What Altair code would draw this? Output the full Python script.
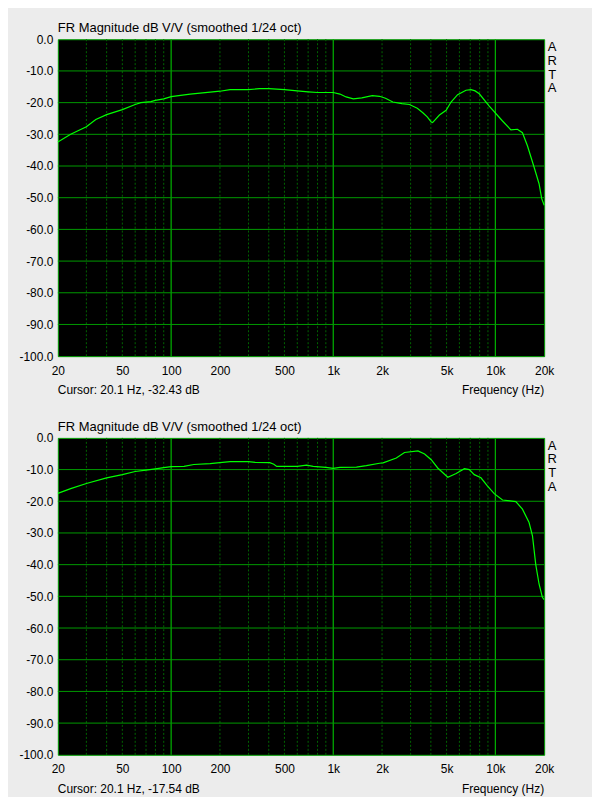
import altair as alt
import pandas as pd

# ---- data ----
freq1 = [20, 24, 30, 34.3, 40, 50, 60, 65, 75, 80, 90, 100, 131, 174, 200, 231, 300, 350, 400,
         500, 600, 700, 800, 1000, 1100, 1200, 1330, 1500, 1740, 1930, 2100, 2330, 2650, 2950,
         3300, 3570, 3800, 4020, 4100, 4520, 4970, 5330, 5850, 6590, 7080, 7500, 7960, 9170,
         11070, 12470, 13680, 14690, 15770, 17340, 18600, 19320, 20000]
db1 = [-32.4, -30.0, -27.6, -25.3, -23.8, -22.2, -20.6, -20.0, -19.7, -19.3, -18.8, -18.1, -17.3,
       -16.7, -16.4, -15.9, -15.9, -15.6, -15.6, -15.9, -16.3, -16.6, -16.8, -16.8, -17.3, -18.2,
       -18.8, -18.5, -17.8, -18.0, -18.6, -19.8, -20.3, -20.6, -21.8, -23.2, -24.5, -26.1, -26.3,
       -23.9, -22.4, -19.8, -17.5, -16.1, -15.9, -16.3, -17.2, -21.1, -25.8, -28.6, -28.4, -29.5,
       -33.6, -40.4, -45.6, -50.3, -52.4]

freq2 = [20, 24, 30, 40, 50, 60, 70, 80, 90, 100, 120, 138, 174, 200, 231, 300, 330, 406, 430,
         448, 600, 685, 752, 900, 1000, 1100, 1390, 1600, 1930, 2030, 2450, 2750, 3330, 3660,
         4020, 4410, 5090, 5730, 6440, 6910, 7410, 8150, 8950, 9840, 11070, 13370, 14690, 16140,
         16940, 17750, 18600, 19500, 20000]
db2 = [-17.5, -16.0, -14.4, -12.6, -11.6, -10.6, -10.2, -9.8, -9.4, -9.1, -9.0, -8.4, -8.1, -7.8,
       -7.5, -7.5, -7.7, -7.8, -8.3, -9.0, -9.0, -8.6, -9.0, -9.3, -9.6, -9.3, -9.2, -8.75, -8.0,
       -7.9, -6.35, -4.6, -4.1, -5.1, -6.9, -9.5, -12.4, -11.25, -9.7, -10.0, -11.6, -12.6, -15.2,
       -17.6, -19.6, -20.1, -22.5, -26.7, -30.9, -40.0, -46.1, -50.3, -51.0]

minor_freqs = [30, 40, 50, 60, 70, 80, 90, 200, 300, 400, 500, 600, 700, 800, 900,
               2000, 3000, 4000, 5000, 6000, 7000, 8000, 9000]
major_freqs = [100, 1000, 10000]
h_grid = [-10, -20, -30, -40, -50, -60, -70, -80, -90]
x_ticks = [20, 50, 100, 200, 500, 1000, 2000, 5000, 10000, 20000]
y_ticks = [0, -10, -20, -30, -40, -50, -60, -70, -80, -90, -100]

title_text = "FR Magnitude dB V/V (smoothed 1/24 oct)"
cursor_texts = ["Cursor: 20.1 Hz, -32.43 dB", "Cursor: 20.1 Hz, -17.54 dB"]
xlabel_text = "Frequency (Hz)"
brand_letters = ["A", "R", "T", "A"]

W, H = 488, 318
BG = "#ececec"
FONT = "Liberation Sans"
MAJOR = "#009a00"
MAJOR_V = "#00b400"
MINOR = "#006400"
CURVE = "#00ff00"

xscale = alt.Scale(type="log", domain=[20, 20000], nice=False)
yscale = alt.Scale(domain=[-100, 0], nice=False)

x_axis = alt.Axis(values=x_ticks, title=None, grid=False, ticks=False, domain=False,
                  labelExpr="datum.value >= 1000 ? (datum.value / 1000) + 'k' : datum.label",
                  labelFlush=False, labelOverlap=False, labelPadding=9,
                  labelFont=FONT, labelFontSize=12, labelColor="black")
y_axis = alt.Axis(values=y_ticks, title=None, grid=False, ticks=False, domain=False,
                  format=".1f",
                  labelExpr="replace(datum.label, '\u2212', '-')",
                  labelFlush=False, labelOverlap=False, labelPadding=5,
                  labelFont=FONT, labelFontSize=12, labelColor="black")

X = lambda field: alt.X(field, type="quantitative", scale=xscale, axis=x_axis)
Y = lambda field: alt.Y(field, type="quantitative", scale=yscale, axis=y_axis)


def txt(s, x, y, align="left", size=12):
    return alt.Chart(pd.DataFrame({"t": [s]})).mark_text(
        align=align, baseline="middle", font=FONT, fontSize=size, color="black"
    ).encode(text="t:N", x=alt.value(x), y=alt.value(y))


def panel(freqs, dbs, cursor, top_anchor=False):
    df = pd.DataFrame({"f": freqs, "db": dbs})
    minor = alt.Chart(pd.DataFrame({"f": minor_freqs})).mark_rule(
        color=MINOR, strokeDash=[2, 2], strokeWidth=1
    ).encode(x=X("f"))
    major = alt.Chart(pd.DataFrame({"f": major_freqs})).mark_rule(
        color=MAJOR_V, strokeWidth=1.2
    ).encode(x=X("f"))
    hg = alt.Chart(pd.DataFrame({"d": h_grid})).mark_rule(
        color=MAJOR, strokeWidth=1
    ).encode(y=Y("d"))
    line = alt.Chart(df).mark_line(color=CURVE, strokeWidth=1.2).encode(
        x=X("f"), y=Y("db"), order="f:Q",
    )
    layers = [minor, major, hg, line,
              txt(title_text, 0, -11, size=13),
              txt(cursor, 0, 352),
              txt(xlabel_text, W, 352, align="right")]
    for i, letter in enumerate(brand_letters):
        layers.append(txt(letter, 496, 8 + 13.7 * i, align="center", size=13))
    if top_anchor:
        anchor = alt.Chart(pd.DataFrame({"a": [0]})).mark_rule(color=BG, strokeWidth=1).encode(
            x=alt.value(-49), x2=alt.value(W + 47), y=alt.value(-28.5))
        layers.insert(0, anchor)
    return alt.layer(*layers).properties(width=W, height=H)


p1 = panel(freq1, db1, cursor_texts[0], top_anchor=True)
p2 = panel(freq2, db2, cursor_texts[1])

chart = alt.vconcat(p1, p2, spacing=82, bounds="flush").properties(
    padding=0, background=BG
).configure_view(fill="black", stroke="#00a000", strokeWidth=1)

chart.save("out.html", embed_options={"renderer": "svg", "actions": False})
